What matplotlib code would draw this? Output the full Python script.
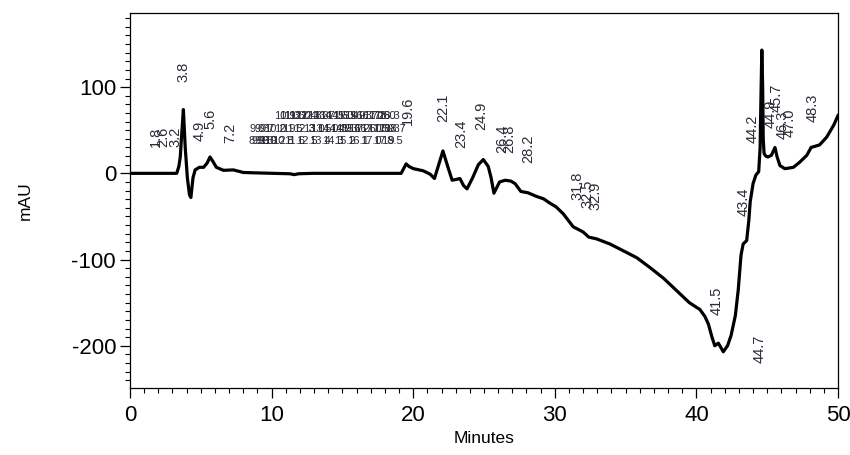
import matplotlib
matplotlib.use("Agg")
import matplotlib.pyplot as plt
from matplotlib.ticker import MultipleLocator

plt.rcParams['font.family'] = ['Liberation Sans', 'DejaVu Sans']
plt.rcParams['axes.unicode_minus'] = False

# chromatogram trace (minutes, mAU)
time_min = [0, 3.3, 3.45, 3.55, 3.65, 3.77, 3.9, 4.05, 4.2, 4.3, 4.45, 4.6, 4.9, 5.2, 5.45,
            5.65, 5.85, 6.1, 6.6, 7.3, 8.0, 9.0, 11.3, 11.6, 11.9, 12.9, 19.15, 19.5, 19.7,
            20.0, 20.7, 21.2, 21.5, 21.8, 22.1, 22.4, 22.75, 23.05, 23.3, 23.55, 23.8, 24.2,
            24.6, 24.95, 25.3, 25.5, 25.7, 26.1, 26.5, 26.9, 27.2, 27.6, 28.1, 28.7, 29.2,
            29.6, 30.1, 30.6, 31.3, 32.0, 32.4, 32.95, 33.9, 34.8, 35.8, 36.7, 37.7, 38.6,
            39.5, 40.25, 40.6, 40.85, 41.1, 41.3, 41.55, 41.9, 42.2, 42.45, 42.75, 42.95,
            43.15, 43.3, 43.55, 43.7, 43.8, 44.0, 44.2, 44.4, 44.5, 44.55, 44.62, 44.68,
            44.72, 44.78, 44.9, 45.05, 45.3, 45.55, 45.7, 45.9, 46.25, 46.85, 47.3, 47.8,
            48.1, 48.7, 49.2, 49.7, 50.0]
signal_mau = [0, 0, 8, 19, 45, 74, 30, -5, -25, -28, -5, 4, 7, 7, 12,
              19, 14, 7, 3.5, 4, 1, 0.5, -0.5, -1.5, -0.5, 0, 0, 11, 8,
              5.5, 3, -1, -6, 10, 26, 10, -8, -7, -6, -14, -18, -5,
              10, 16, 8, -5, -23, -10, -8, -9, -12, -21, -22.5, -26.7, -29.5,
              -34, -39, -47, -62, -68, -74, -76, -82, -89.5, -98, -109, -122, -136,
              -150, -158, -166, -175, -190, -200, -197, -207, -200, -188, -165, -136,
              -95, -82, -78, -55, -33, -12, -2, 2, 30, 80, 143, 100,
              40, 23, 20, 19, 21, 30, 19, 9, 5.4, 7, 13, 21,
              30, 33, 42, 56, 67]

# rotated peak labels
peak_text = ["1.8", "2.6", "3.2", "3.8", "4.9", "5.6", "7.2", "19.6", "22.1", "23.4", "24.9",
             "26.4", "26.8", "28.2", "31.8", "32.5", "32.9", "41.5", "43.4", "44.2", "44.7",
             "44.9", "45.7", "46.3", "47.0", "48.3"]
peak_x = [1.8, 2.35, 3.2, 3.78, 4.94, 5.65, 7.06, 19.6, 22.1, 23.4, 24.8,
          26.3, 26.8, 28.1, 31.6, 32.3, 32.9, 41.4, 43.3, 44.0, 44.5,
          45.25, 45.7, 46.1, 46.6, 48.2]
peak_y = [30, 31, 30, 106, 38, 52, 35, 56, 59, 29, 50,
          24, 24, 12, -31, -40, -42, -164, -49, 35, -220,
          53, 71, 40, 42, 60]

# crowded (overlapping) labels in the 8-19 min region, three rows
row_a_times = [10.9, 11.3, 11.6, 12.0, 12.4, 12.8, 13.3, 13.7, 14.1, 14.6, 15.0, 15.4,
               15.9, 16.3, 16.7, 17.2, 17.6, 18.0, 18.3]
row_b_times = [9.0, 9.3, 9.7, 10.2, 10.9, 11.5, 12.3, 13.0, 13.5, 14.0, 14.4, 14.9,
               15.3, 15.7, 16.2, 16.6, 17.0, 17.5, 17.9, 18.3, 18.7]
row_c_times = [8.9, 9.1, 9.3, 9.6, 9.9, 10.2, 10.8, 11.6, 12.5, 13.4, 14.3, 15.2,
               16.1, 17.0, 17.9, 18.5]
row_levels = [66, 51, 38]

fig = plt.figure(figsize=(8.5, 4.55), dpi=100)
ax = fig.add_axes([130 / 850, 1 - 388 / 455, (838 - 130) / 850, (388 - 13) / 455])

ax.plot(time_min, signal_mau, color='black', lw=2.3, solid_joinstyle='round')

txt_color = '#2b2b38'
for s, x, y in zip(peak_text, peak_x, peak_y):
    ax.text(x, y, s, rotation=90, ha='center', va='bottom', fontsize=10.5, color=txt_color)

for times, lvl in zip([row_a_times, row_b_times, row_c_times], row_levels):
    for t in times:
        ax.text(t, lvl, f"{t:.1f}", ha='center', va='center', fontsize=8, color=txt_color)

ax.set_xlim(0, 50)
ax.set_ylim(-249, 186)
ax.xaxis.set_major_locator(MultipleLocator(10))
ax.xaxis.set_minor_locator(MultipleLocator(1))
ax.yaxis.set_major_locator(MultipleLocator(100))
ax.yaxis.set_minor_locator(MultipleLocator(10))
ax.tick_params(which='major', direction='out', length=7, width=0.9, labelsize=16, pad=3)
ax.tick_params(which='minor', direction='out', length=3.6, width=0.8)
ax.tick_params(axis='x', which='major', pad=5)
for sp in ax.spines.values():
    sp.set_linewidth(0.9)

ax.set_xlabel("Minutes", fontsize=12.5, labelpad=4)
ax.set_ylabel("mAU", fontsize=12.5, labelpad=28)

fig.savefig("out.png", dpi=100)
